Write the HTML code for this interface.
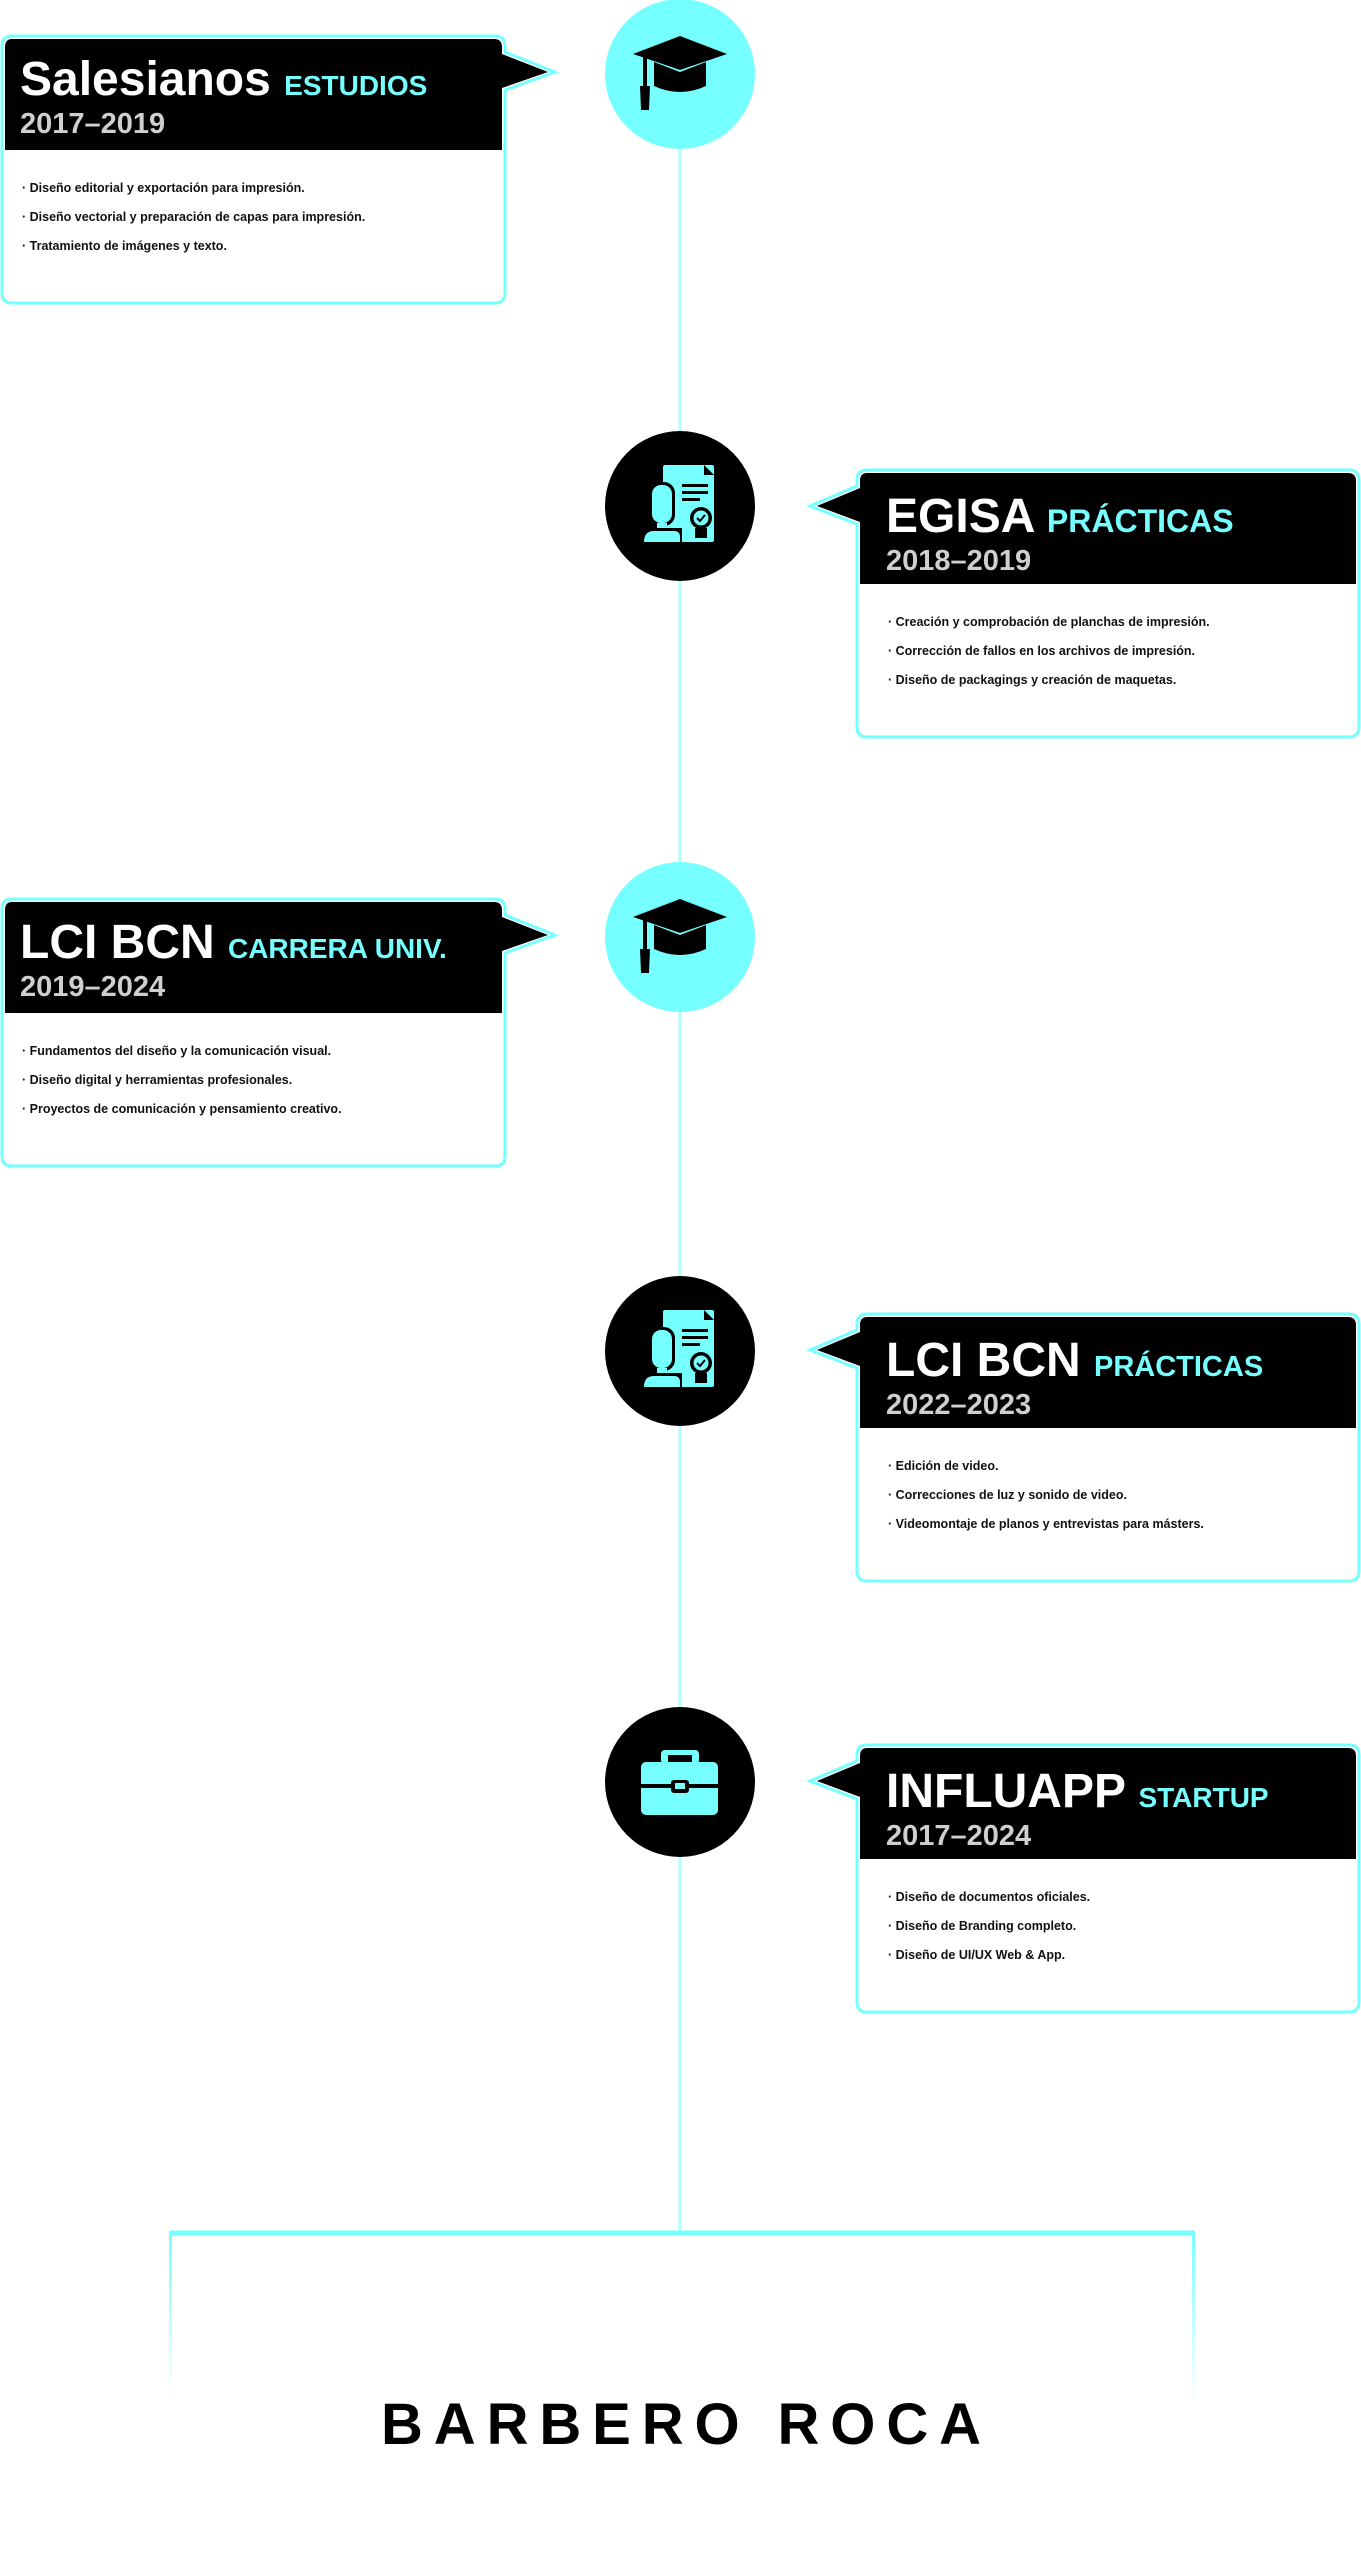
<!DOCTYPE html>
<html><head><meta charset="utf-8"><style>
html,body{margin:0;padding:0;background:#fff;}
body{width:1361px;height:2560px;position:relative;overflow:hidden;}
svg{position:absolute;left:0;top:0;}
text{font-family:"Liberation Sans",sans-serif;font-weight:bold;}
</style></head><body>
<svg width="1361" height="2560" viewBox="0 0 1361 2560" xmlns="http://www.w3.org/2000/svg">
<defs>
<linearGradient id="fade" x1="0" y1="0" x2="0" y2="1">
<stop offset="0" stop-color="#75ffff"/><stop offset="1" stop-color="#75ffff" stop-opacity="0"/>
</linearGradient>
<g id="cap">
<polygon points="-47,-20 0,-38 47,-20 0,-4" fill="#000"/>
<path d="M-26,-12 L0,-2 L26,-12 L26,12 Q0,24 -26,12 Z" fill="#000"/>
<rect x="-37" y="-18" width="4" height="30" fill="#000"/>
<polygon points="-40,12 -30,12 -31,36 -39,36" fill="#000"/>
</g>
<g id="cert">
<rect x="-17" y="-41" width="51" height="77" rx="2" fill="#75ffff"/>
<polygon points="24,-41 34,-31 24,-31" fill="#000"/>
<rect x="-31" y="-24" width="26" height="44" rx="11" fill="#000"/>
<rect x="-28" y="-21" width="20" height="38" rx="9" fill="#75ffff"/>
<rect x="-23" y="17" width="10" height="6" fill="#75ffff"/>
<rect x="-40" y="22" width="42" height="16" fill="#000"/>
<path d="M-36,36 Q-36,25 -26,25 L-6,25 Q0,25 0,31 L0,36 Z" fill="#75ffff"/>
<rect x="2" y="-22" width="26" height="3" fill="#000"/>
<rect x="2" y="-15" width="26" height="3" fill="#000"/>
<rect x="2" y="-8" width="18" height="3" fill="#000"/>
<circle cx="21" cy="12" r="11" fill="#000"/><circle cx="21" cy="12" r="7.5" fill="#75ffff"/>
<path d="M17,12 l3,3 l5,-6" stroke="#000" stroke-width="2" fill="none"/>
<rect x="15" y="22" width="12" height="10" fill="#000"/>
</g>
<g id="brief">
<rect x="-19" y="-32" width="38" height="14" rx="4" fill="#75ffff"/>
<rect x="-12" y="-27" width="24" height="7" fill="#000"/>
<rect x="-39" y="-20" width="77" height="53" rx="5" fill="#75ffff"/>
<rect x="-39" y="2" width="77" height="4" fill="#000"/>
<rect x="-9" y="-2" width="18" height="13" rx="3" fill="#000"/>
<rect x="-5" y="1" width="10" height="6" fill="#75ffff"/>
</g>
</defs>

<line x1="680" y1="74" x2="680" y2="2232" stroke="#aefcff" stroke-width="3"/>
<line x1="170" y1="2233" x2="1194" y2="2233" stroke="#75ffff" stroke-width="5"/>
<rect x="169" y="2231" width="3" height="170" fill="url(#fade)"/>
<rect x="1192" y="2231" width="3" height="170" fill="url(#fade)"/>
<text x="381" y="2444" font-size="58" textLength="600" lengthAdjust="spacing" fill="#000">BARBERO ROCA</text>

<circle cx="680" cy="74" r="75" fill="#75ffff"/><use href="#cap" x="680" y="74"/>
<circle cx="680" cy="506" r="75" fill="#000"/><use href="#cert" x="680" y="506"/>
<circle cx="680" cy="937" r="75" fill="#75ffff"/><use href="#cap" x="680" y="937"/>
<circle cx="680" cy="1351" r="75" fill="#000"/><use href="#cert" x="680" y="1351"/>
<circle cx="680" cy="1782" r="75" fill="#000"/><use href="#brief" x="680" y="1782"/>

<g transform="translate(0,36)">
<path d="M12,0 H495 Q505,0 505,10 V16 L555,36 L505,54 V257 Q505,267 495,267 H12 Q2,267 2,257 V10 Q2,0 12,0 Z" fill="#fff" stroke="#75ffff" stroke-width="3"/>
<path d="M12,3 H494 Q502,3 502,11 V18 L548,36 L502,52 V114 H5 V11 Q5,3 12,3 Z" fill="#000"/>
<text x="20" y="59" font-size="48" fill="#fff">Salesianos <tspan font-size="28" fill="#75ffff">ESTUDIOS</tspan></text>
<text x="20" y="97" font-size="29" fill="#cfcfcf">2017–2019</text>
<text x="22" y="156" font-size="12.5" fill="#111">· Diseño editorial y exportación para impresión.</text>
<text x="22" y="185" font-size="12.5" fill="#111">· Diseño vectorial y preparación de capas para impresión.</text>
<text x="22" y="214" font-size="12.5" fill="#111">· Tratamiento de imágenes y texto.</text>
</g>

<g transform="translate(0,899)">
<path d="M12,0 H495 Q505,0 505,10 V16 L555,36 L505,54 V257 Q505,267 495,267 H12 Q2,267 2,257 V10 Q2,0 12,0 Z" fill="#fff" stroke="#75ffff" stroke-width="3"/>
<path d="M12,3 H494 Q502,3 502,11 V18 L548,36 L502,52 V114 H5 V11 Q5,3 12,3 Z" fill="#000"/>
<text x="20" y="59" font-size="48" fill="#fff">LCI BCN <tspan font-size="28" fill="#75ffff">CARRERA UNIV.</tspan></text>
<text x="20" y="97" font-size="29" fill="#cfcfcf">2019–2024</text>
<text x="22" y="156" font-size="12.5" fill="#111">· Fundamentos del diseño y la comunicación visual.</text>
<text x="22" y="185" font-size="12.5" fill="#111">· Diseño digital y herramientas profesionales.</text>
<text x="22" y="214" font-size="12.5" fill="#111">· Proyectos de comunicación y pensamiento creativo.</text>
</g>

<g transform="translate(0,470)">
<path d="M867,0 H1349 Q1359,0 1359,10 V257 Q1359,267 1349,267 H867 Q857,267 857,257 V54 L810,36 L857,16 V10 Q857,0 867,0 Z" fill="#fff" stroke="#75ffff" stroke-width="3"/>
<path d="M867,3 H1348 Q1356,3 1356,11 V114 H860 V52 L817,36 L860,18 V11 Q860,3 867,3 Z" fill="#000"/>
<text x="886" y="62" font-size="48" fill="#fff">EGISA <tspan font-size="32" fill="#75ffff">PRÁCTICAS</tspan></text>
<text x="886" y="100" font-size="29" fill="#cfcfcf">2018–2019</text>
<text x="888" y="156" font-size="12.5" fill="#111">· Creación y comprobación de planchas de impresión.</text>
<text x="888" y="185" font-size="12.5" fill="#111">· Corrección de fallos en los archivos de impresión.</text>
<text x="888" y="214" font-size="12.5" fill="#111">· Diseño de packagings y creación de maquetas.</text>
</g>

<g transform="translate(0,1314)">
<path d="M867,0 H1349 Q1359,0 1359,10 V257 Q1359,267 1349,267 H867 Q857,267 857,257 V54 L810,36 L857,16 V10 Q857,0 867,0 Z" fill="#fff" stroke="#75ffff" stroke-width="3"/>
<path d="M867,3 H1348 Q1356,3 1356,11 V114 H860 V52 L817,36 L860,18 V11 Q860,3 867,3 Z" fill="#000"/>
<text x="886" y="62" font-size="48" fill="#fff">LCI BCN <tspan font-size="29" fill="#75ffff">PRÁCTICAS</tspan></text>
<text x="886" y="100" font-size="29" fill="#cfcfcf">2022–2023</text>
<text x="888" y="156" font-size="12.5" fill="#111">· Edición de video.</text>
<text x="888" y="185" font-size="12.5" fill="#111">· Correcciones de luz y sonido de video.</text>
<text x="888" y="214" font-size="12.5" fill="#111">· Videomontaje de planos y entrevistas para másters.</text>
</g>

<g transform="translate(0,1745)">
<path d="M867,0 H1349 Q1359,0 1359,10 V257 Q1359,267 1349,267 H867 Q857,267 857,257 V54 L810,36 L857,16 V10 Q857,0 867,0 Z" fill="#fff" stroke="#75ffff" stroke-width="3"/>
<path d="M867,3 H1348 Q1356,3 1356,11 V114 H860 V52 L817,36 L860,18 V11 Q860,3 867,3 Z" fill="#000"/>
<text x="886" y="62" font-size="48" fill="#fff">INFLUAPP <tspan font-size="28" fill="#75ffff">STARTUP</tspan></text>
<text x="886" y="100" font-size="29" fill="#cfcfcf">2017–2024</text>
<text x="888" y="156" font-size="12.5" fill="#111">· Diseño de documentos oficiales.</text>
<text x="888" y="185" font-size="12.5" fill="#111">· Diseño de Branding completo.</text>
<text x="888" y="214" font-size="12.5" fill="#111">· Diseño de UI/UX Web &amp; App.</text>
</g>
</svg>
</body></html>
